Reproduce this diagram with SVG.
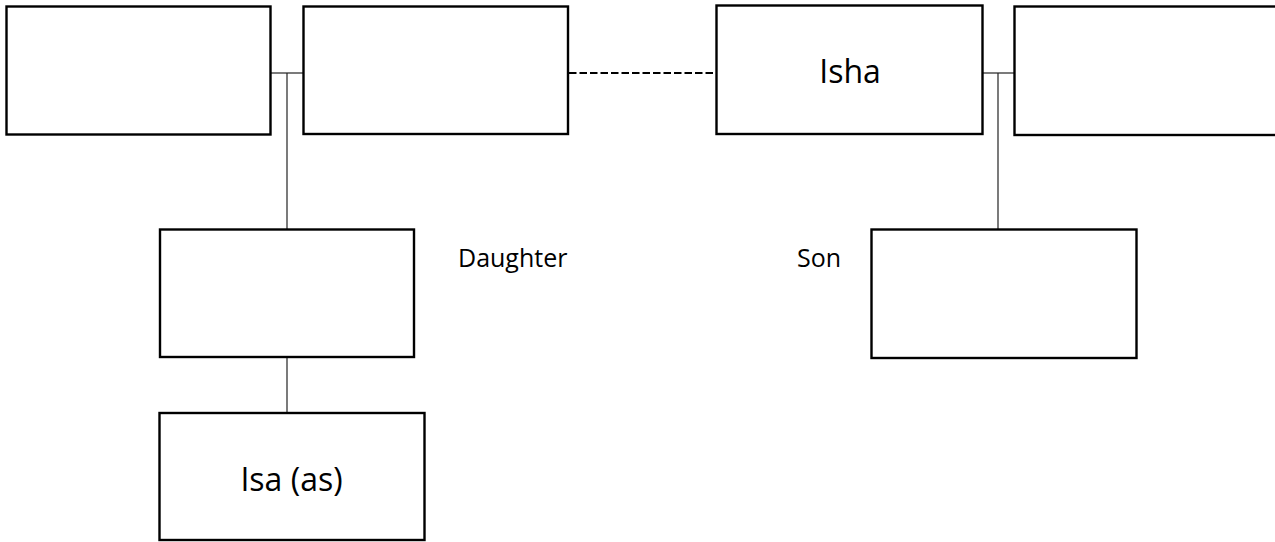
<svg xmlns="http://www.w3.org/2000/svg" width="1275" height="542" viewBox="0 0 1275 542">
<style>
.box{fill:#fff;stroke:#000;stroke-width:2.4}
.ln{stroke:#222;stroke-width:1.2;fill:none}
.dash{stroke:#000;stroke-width:2;stroke-dasharray:7.5 3;fill:none}
.t{font-family:"Open Sans","Liberation Sans",sans-serif;fill:#000}
</style>
<rect width="1275" height="542" fill="#fff"/>
<g id="connectors">
<line class="ln" x1="271" y1="73" x2="303" y2="73"/>
<line class="ln" x1="287" y1="73" x2="287" y2="229"/>
<line class="ln" x1="287" y1="357" x2="287" y2="413"/>
<line class="dash" x1="569" y1="73" x2="716" y2="73"/>
<line class="ln" x1="983" y1="73" x2="1014" y2="73"/>
<line class="ln" x1="998" y1="73" x2="998" y2="229"/>
</g>
<g id="n1"><rect class="box" x="6.5" y="6.5" width="264" height="128"/></g>
<g id="n2"><rect class="box" x="303.5" y="6.5" width="264.5" height="127.5"/></g>
<g id="isha"><rect class="box" x="716.5" y="5.5" width="266" height="128.5"/>
<text class="t" x="850" y="83" font-size="32" text-anchor="middle">Isha</text></g>
<g id="n4"><rect class="box" x="1014.5" y="6.5" width="270" height="128.5"/></g>
<g id="daughter"><rect class="box" x="160" y="229.5" width="254" height="127.5"/></g>
<g id="daughterLabel"><text class="t" x="458" y="267" font-size="25">Daughter</text></g>
<g id="son"><rect class="box" x="871.5" y="229.5" width="265" height="128.5"/></g>
<g id="sonLabel"><text class="t" x="797" y="267" font-size="25">Son</text></g>
<g id="isa"><rect class="box" x="159.5" y="413" width="265" height="127"/>
<text class="t" x="291.5" y="491" font-size="32" text-anchor="middle">Isa (as)</text></g>
</svg>
